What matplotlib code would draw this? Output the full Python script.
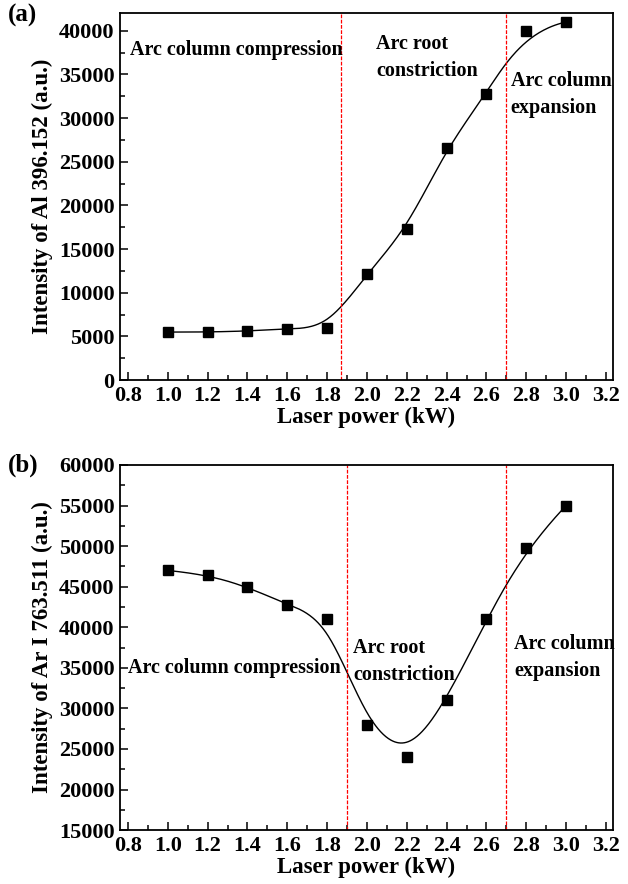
import numpy as np
import matplotlib
matplotlib.use("Agg")
import matplotlib.pyplot as plt
from matplotlib.ticker import MultipleLocator, FormatStrFormatter

plt.rcParams['font.family'] = ['Liberation Serif', 'DejaVu Serif']
plt.rcParams['font.weight'] = 'bold'
plt.rcParams['axes.labelweight'] = 'bold'

# ---- data ----
laser_power = [1.0, 1.2, 1.4, 1.6, 1.8, 2.0, 2.2, 2.4, 2.6, 2.8, 3.0]
al_intensity = [5500, 5500, 5600, 5900, 5950, 12200, 17300, 26600, 32800, 40000, 41000]
ar_intensity = [47000, 46500, 45000, 42800, 41000, 28000, 24000, 31000, 41000, 49800, 55000]
boundaries_a = [1.87, 2.70]
boundaries_b = [1.90, 2.70]
region_labels = ["Arc column compression", "Arc root\nconstriction", "Arc column\nexpansion"]
ylabel_a = "Intensity of Al 396.152 (a.u.)"
ylabel_b = "Intensity of Ar I 763.511 (a.u.)"
xlabel = "Laser power (kW)"


def bspline_curve(xs, ys, degree=3, num=500):
    P = np.column_stack([xs, ys]).astype(float)
    n = len(P)
    knots = np.concatenate([np.zeros(degree + 1), np.arange(1, n - degree),
                            np.full(degree + 1, n - degree)]).astype(float)
    t = np.linspace(0, n - degree, num)
    m = len(knots) - 1
    N = np.zeros((num, m))
    for i in range(m):
        N[:, i] = (t >= knots[i]) & (t < knots[i + 1])
    N[t == knots[-1], :] = 0
    N[t == knots[-1], n - 1] = 1
    for d in range(1, degree + 1):
        newN = np.zeros((num, m - d))
        for i in range(m - d):
            den1 = knots[i + d] - knots[i]
            den2 = knots[i + d + 1] - knots[i + 1]
            term = np.zeros(num)
            if den1 > 0:
                term += (t - knots[i]) / den1 * N[:, i]
            if den2 > 0:
                term += (knots[i + d + 1] - t) / den2 * N[:, i + 1]
            newN[:, i] = term
        N = newN
    C = N @ P
    return C[:, 0], C[:, 1]


fig = plt.figure(figsize=(6.28, 8.84), dpi=100)
ax1 = fig.add_axes([0.191, 0.570, 0.785, 0.415])
ax2 = fig.add_axes([0.191, 0.061, 0.785, 0.413])


def style(ax, ylim, ymaj, ymin):
    ax.set_xlim(0.76, 3.235)
    ax.set_ylim(*ylim)
    ax.xaxis.set_major_locator(MultipleLocator(0.2))
    ax.xaxis.set_minor_locator(MultipleLocator(0.1))
    ax.yaxis.set_major_locator(MultipleLocator(ymaj))
    ax.yaxis.set_minor_locator(MultipleLocator(ymin))
    ax.tick_params(which='both', direction='in', top=False, right=False,
                   labelsize=16, width=1.1)
    ax.tick_params(which='major', length=6, pad=4)
    ax.tick_params(which='minor', length=3.5)
    ax.xaxis.set_major_formatter(FormatStrFormatter('%.1f'))
    for s in ax.spines.values():
        s.set_linewidth(1.3)
    ax.set_xlabel(xlabel, fontsize=16.5, labelpad=1)


# ---- panel (a) ----
style(ax1, (0, 42000), 5000, 2500)
cx, cy = bspline_curve(laser_power, al_intensity)
ax1.plot(cx, cy, color='black', lw=1.0)
ax1.plot(laser_power, al_intensity, 's', color='black', ms=6.5)
for b in boundaries_a:
    ax1.axvline(b, color='red', lw=0.9, ls=(0, (3, 1.2)))
ax1.set_ylabel(ylabel_a, fontsize=16.5, labelpad=4)
ax1.text(0.81, 37750, region_labels[0], fontsize=14.5, va='center', ha='left')
ax1.text(2.045, 36970, region_labels[1], fontsize=14.5, va='center', ha='left',
         linespacing=1.45)
ax1.text(2.722, 32720, region_labels[2], fontsize=14.5, va='center', ha='left',
         linespacing=1.45)
fig.text(0.012, 0.982, "(a)", fontsize=18, va='center', ha='left')

# ---- panel (b) ----
style(ax2, (15000, 60000), 5000, 2500)
cx, cy = bspline_curve(laser_power, ar_intensity)
ax2.plot(cx, cy, color='black', lw=1.0)
ax2.plot(laser_power, ar_intensity, 's', color='black', ms=6.5)
for b in boundaries_b:
    ax2.axvline(b, color='red', lw=0.9, ls=(0, (3, 1.2)))
ax2.set_ylabel(ylabel_b, fontsize=16.5, labelpad=4)
ax2.text(0.80, 35000, region_labels[0], fontsize=14.5, va='center', ha='left')
ax2.text(1.932, 35790, region_labels[1], fontsize=14.5, va='center', ha='left',
         linespacing=1.45)
ax2.text(2.738, 36230, region_labels[2], fontsize=14.5, va='center', ha='left',
         linespacing=1.45)
fig.text(0.012, 0.474, "(b)", fontsize=18, va='center', ha='left')

fig.savefig("out.png", dpi=100)
